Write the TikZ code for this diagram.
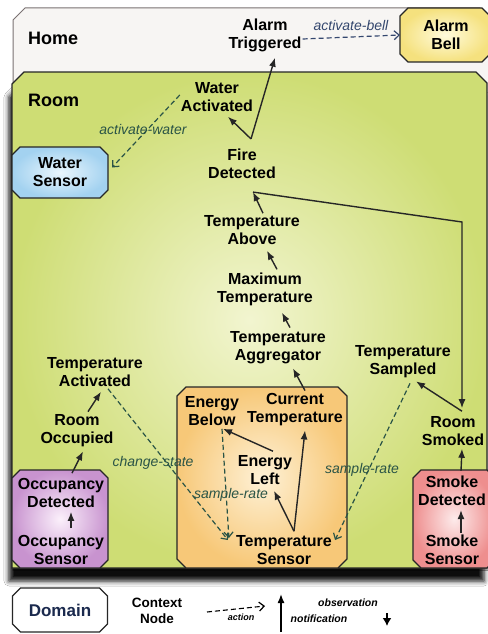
\documentclass[tikz,border=0pt]{standalone}
\usepackage{fontspec}
\setmainfont{Liberation Sans}
\usetikzlibrary{arrows.meta,shadows.blur}

\definecolor{homefill}{HTML}{F7F5F3}
\definecolor{homeline}{HTML}{7A7272}
\definecolor{roomin}{HTML}{F2F5D0}
\definecolor{roomout}{HTML}{CEDD74}
\definecolor{actc}{HTML}{2A5446}
\definecolor{bellc}{HTML}{34476E}
\definecolor{waterin}{HTML}{EAF6FD}
\definecolor{waterout}{HTML}{A3D2F0}
\definecolor{bellin}{HTML}{FFFBDC}
\definecolor{bellout}{HTML}{F5E17E}
\definecolor{occin}{HTML}{FBF0FB}
\definecolor{occout}{HTML}{C893CF}
\definecolor{tempin}{HTML}{FEF1D6}
\definecolor{tempout}{HTML}{F7C878}
\definecolor{smokein}{HTML}{FDEBEB}
\definecolor{smokeout}{HTML}{EE8E8E}
\definecolor{domtext}{HTML}{1B2A4E}

% outline of a chamfered box drawn round a named node
\newcommand\chambox[3]{%
  \path[#2] ([xshift=#3]#1.north west) -- ([xshift=-#3]#1.north east)
    -- ([yshift=-#3]#1.north east) -- ([yshift=#3]#1.south east)
    -- ([xshift=-#3]#1.south east) -- ([xshift=#3]#1.south west)
    -- ([yshift=#3]#1.south west) -- ([yshift=-#3]#1.north west) -- cycle;}

\begin{document}
\begin{tikzpicture}[x=1pt,y=-1pt,
  ctx/.style={font=\bfseries\fontsize{16}{18}\selectfont, align=center, inner sep=1pt},
  area/.style={font=\bfseries\fontsize{18}{20}\selectfont, inner sep=0pt, anchor=west},
  lbl/.style={font=\itshape\fontsize{14}{16}\selectfont, text=actc, inner sep=1pt},
  obs/.style={draw=black!85, line width=1.4pt, -{Latex[length=9pt,width=7pt]}},
  act/.style={draw=actc, line width=1.2pt, dash pattern=on 5pt off 3pt,
    -{Straight Barb[length=5pt,width=9pt,line width=1.2pt]}},
  boxframe/.style={rectangle, inner sep=0pt, outer sep=0pt},
  boxline/.style={draw=black!85, line width=1.1pt}
]
\useasboundingbox (0,0) rectangle (487,634);
\fill[white] (0,0) rectangle (487,634);

% outer domain: Home
\path[fill=homefill, draw=homeline, line width=1pt]
  (13,20) -- (25,8) -- (480,8) -- (490,18) -- (490,570) -- (13,570) -- cycle;
\node[area] (home) at (28,38) {Home};

% inner domain: Room, with its shadow below
\shade[inner color=roomin, outer color=roomout, draw=black!85, line width=1.3pt,
  blur shadow={shadow xshift=-3pt, shadow yshift=-13pt, shadow blur radius=5pt,
    shadow opacity=95}]
  (12,84) -- (24,72) -- (476,72) -- (487,83) -- (487,568) -- (12,568) -- cycle;
\node[area] (room) at (28,100) {Room};

% device domains
\node[boxframe, minimum width=90pt, minimum height=54pt] (bellbox) at (445,35) {};
\node[boxframe, minimum width=96pt, minimum height=51pt] (wsbox) at (60,172.5) {};
\node[boxframe, minimum width=96pt, minimum height=98pt] (occbox) at (60,519) {};
\node[boxframe, minimum width=170pt, minimum height=181pt] (tempbox) at (262,477.5) {};
\node[boxframe, minimum width=82pt, minimum height=98pt] (smokebox) at (454,519) {};
\chambox{bellbox}{boxline, inner color=bellin, outer color=bellout}{8pt}
\chambox{wsbox}{boxline, inner color=waterin, outer color=waterout}{8pt}
\chambox{occbox}{boxline, inner color=occin, outer color=occout}{8pt}
\chambox{tempbox}{boxline, inner color=tempin, outer color=tempout}{9pt}
\chambox{smokebox}{boxline, inner color=smokein, outer color=smokeout}{8pt}

% context nodes
\node[ctx] (alarmT) at (265,35) {Alarm\\Triggered};
\node[ctx] (bell) at (446,35) {Alarm\\Bell};
\node[ctx] (waterAct) at (217,97) {Water\\Activated};
\node[ctx] (wsensor) at (60,172) {Water\\Sensor};
\node[ctx] (fire) at (242,164) {Fire\\Detected};
\node[ctx] (tabove) at (252,230) {Temperature\\Above};
\node[ctx] (maxT) at (265,289) {Maximum\\Temperature};
\node[ctx] (aggr) at (278,348) {Temperature\\Aggregator};
\node[ctx] (tsampled) at (403,362) {Temperature\\Sampled};
\node[ctx] (tact) at (95,372) {Temperature\\Activated};
\node[ctx] (roomOcc) at (77,431) {Room\\Occupied};
\node[ctx] (roomSmoked) at (453,431) {Room\\Smoked};
\node[ctx] (ebelow) at (212,411) {Energy\\Below};
\node[ctx] (currT) at (295,410) {Current\\Temperature};
\node[ctx] (eleft) at (265,470) {Energy\\Left};
\node[ctx] (occDet) at (61,493) {Occupancy\\Detected};
\node[ctx] (occSens) at (61,550) {Occupancy\\Sensor};
\node[ctx] (tsensor) at (284,550) {Temperature\\Sensor};
\node[ctx] (smokeDet) at (452,491) {Smoke\\Detected};
\node[ctx] (smokeSens) at (452,550) {Smoke\\Sensor};

% action labels
\node[lbl, text=bellc] (lbell) at (351,25) {activate-bell};
\node[lbl] (lwater) at (143,129) {activate-water};
\node[lbl] (lchange) at (153,463) {change-state};
\node[lbl] (lrate1) at (231,495) {sample-rate};
\node[lbl] (lrate2) at (362,470) {sample-rate};

% actions (dashed)
\draw[act, draw=bellc] ([yshift=-4pt]alarmT.east) -- (bellbox.west);
\draw[act] ([yshift=2pt]waterAct.west) -- ([xshift=4pt,yshift=5pt]wsbox.east);
\draw[act] ([xshift=13pt,yshift=-1pt]tact.south) -- ([xshift=-7pt,yshift=10pt]tsensor.west);
\draw[act] ([xshift=10pt,yshift=-2pt]ebelow.south) -- ([xshift=-6pt,yshift=12pt]tsensor.west);
\draw[act] ([xshift=7pt,yshift=-4pt]tsampled.south) -- ([xshift=2pt,yshift=10pt]tsensor.east);

% observations / notifications (solid)
\coordinate (firefork) at ([xshift=9pt,yshift=9pt]fire.north);
\draw[obs] (firefork) -- ([xshift=10pt,yshift=-5pt]alarmT.south);
\draw[obs] (firefork) -- ([xshift=11pt,yshift=-4pt]waterAct.south);
\draw[obs] ([xshift=11pt,yshift=1pt]tabove.north) -- ([xshift=11pt,yshift=-12pt]fire.south);
\draw[obs] ([xshift=12pt,yshift=2pt]maxT.north) -- ([xshift=15pt,yshift=-5pt]tabove.south);
\draw[obs] ([xshift=12pt,yshift=3pt]aggr.north) -- ([xshift=17pt,yshift=-6pt]maxT.south);
\draw[obs] ([xshift=10pt,yshift=2pt]currT.north) -- ([xshift=15pt,yshift=-3pt]aggr.south);
\coordinate (smokebend) at (462,222);
\draw[obs] ([xshift=11pt,yshift=-12pt]fire.south) -- (smokebend)
  -- ([xshift=9pt,yshift=7pt]roomSmoked.north);
\draw[obs] ([xshift=9pt,yshift=4pt]roomSmoked.north) -- ([xshift=13pt,yshift=-2pt]tsampled.south);
\draw[obs] ([xshift=9pt,yshift=4pt]smokeDet.north) -- ([xshift=9pt,yshift=-2pt]roomSmoked.south);
\draw[obs] ([xshift=9pt,yshift=1pt]smokeSens.north) -- ([xshift=9pt,yshift=-3pt]smokeDet.south);
\draw[obs] ([xshift=11pt,yshift=2pt]roomOcc.north) -- ([xshift=6pt,yshift=-4pt]tact.south);
\draw[obs] ([xshift=11pt,yshift=4pt]occDet.north) -- ([xshift=6pt,yshift=-3pt]roomOcc.south);
\draw[obs] ([xshift=10pt,yshift=6pt]occSens.north) -- ([xshift=10pt,yshift=-3pt]occDet.south);
\draw[obs] ([xshift=8pt,yshift=3pt]eleft.north) -- ([xshift=11pt,yshift=-2pt]ebelow.south);
\coordinate (tempfork) at ([xshift=10pt,yshift=3pt]tsensor.north);
\draw[obs] (tempfork) -- ([xshift=9pt,yshift=-5pt]eleft.south);
\draw[obs] (tempfork) -- ([xshift=10pt,yshift=-3pt]currT.south);

% legend
\node[boxframe, minimum width=95pt, minimum height=44pt] (legdomainbox) at (60,610) {};
\chambox{legdomainbox}{boxline, fill=white}{8pt}
\node[font=\bfseries\fontsize{17}{19}\selectfont, text=domtext, inner sep=0pt]
  (legdomain) at (60,610) {Domain};
\node[align=center, font=\bfseries\fontsize{13.5}{16}\selectfont, inner sep=0pt]
  (legctx) at (157,611) {Context\\Node};
\coordinate (legacta) at (207,612);
\coordinate (legactb) at (265,606);
\draw[act, draw=black, line width=1.1pt] (legacta) -- (legactb);
\node[font=\bfseries\itshape\fontsize{9}{10}\selectfont, inner sep=0pt] (legaction) at (241,617) {action};
\coordinate (legobsa) at (281,632);
\coordinate (legobsb) at (281,594);
\draw[obs, draw=black] (legobsa) -- (legobsb);
\node[font=\bfseries\itshape\fontsize{10.5}{12}\selectfont, inner sep=0pt] (legobs) at (348,603) {observation};
\node[font=\bfseries\itshape\fontsize{10.5}{12}\selectfont, inner sep=0pt] (legnot) at (319,619) {notification};
\coordinate (legdowna) at (387,613);
\coordinate (legdownb) at (387,626);
\draw[draw=black, line width=1.6pt, -{Latex[length=8pt,width=9pt]}] (legdowna) -- (legdownb);
\end{tikzpicture}
\end{document}
